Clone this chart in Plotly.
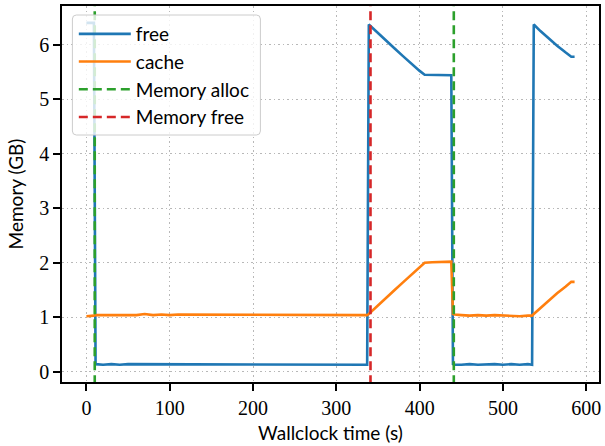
import plotly.graph_objects as go

# Sampled memory usage over the run (seconds, GB)
time_s = [0, 5, 9, 11, 20, 30, 40, 50, 60, 70, 80, 90, 100, 110, 120, 130, 140, 150,
          160, 170, 180, 190, 200, 210, 220, 230, 240, 250, 260, 270, 280, 290, 300,
          310, 320, 330, 337, 339, 350, 360, 370, 380, 390, 400, 406, 415, 425, 438,
          440, 442, 450, 460, 470, 480, 490, 500, 510, 520, 530, 535, 537, 545, 555,
          565, 575, 582, 586]

free_gb = [6.40, 6.40, 6.40, 0.14, 0.13, 0.14, 0.13, 0.14, 0.14, 0.13, 0.14, 0.13,
           0.14, 0.14, 0.13, 0.14, 0.13, 0.14, 0.14, 0.13, 0.14, 0.13, 0.14, 0.14,
           0.13, 0.14, 0.13, 0.14, 0.13, 0.14, 0.14, 0.13, 0.14, 0.13, 0.14, 0.13,
           0.13, 6.37, 6.22, 6.07, 5.93, 5.79, 5.65, 5.52, 5.45, 5.45, 5.44, 5.44,
           0.14, 0.13, 0.13, 0.14, 0.13, 0.14, 0.14, 0.13, 0.14, 0.13, 0.14, 0.13,
           6.37, 6.25, 6.11, 5.98, 5.86, 5.78, 5.78]

cache_gb = [1.02, 1.02, 1.03, 1.04, 1.04, 1.05, 1.04, 1.05, 1.04, 1.06, 1.04, 1.05,
            1.04, 1.05, 1.05, 1.04, 1.05, 1.04, 1.05, 1.04, 1.05, 1.04, 1.05, 1.04,
            1.04, 1.05, 1.04, 1.05, 1.04, 1.05, 1.04, 1.04, 1.05, 1.04, 1.05, 1.04,
            1.04, 1.06, 1.21, 1.36, 1.50, 1.64, 1.78, 1.92, 2.00, 2.01, 2.01, 2.02,
            1.06, 1.05, 1.04, 1.03, 1.04, 1.03, 1.04, 1.03, 1.03, 1.02, 1.03, 1.03,
            1.06, 1.17, 1.31, 1.44, 1.56, 1.65, 1.65]

alloc_times = [10, 441]
free_times = [341]

x_ticks = [0, 100, 200, 300, 400, 500, 600]
y_ticks = [0, 1, 2, 3, 4, 5, 6]


def vlines(ts):
    xs, ys = [], []
    for t in ts:
        xs += [t, t, None]
        ys += [-1, 8, None]
    return xs, ys


BLUE, ORANGE, GREEN, RED = "#1f77b4", "#ff7f0e", "#2ca02c", "#d62728"
SANS = "Lato"
SERIF = "Liberation Serif"
TICK_FONT = dict(family=SERIF, size=20, color="black")
LABEL_FONT = dict(family=SANS, size=19, color="black")

fig = go.Figure()
fig.add_trace(go.Scatter(x=time_s, y=free_gb, mode="lines", name="free",
                         line=dict(color=BLUE, width=2.6), legendgroup="a"))
fig.add_trace(go.Scatter(x=time_s, y=cache_gb, mode="lines", name="cache",
                         line=dict(color=ORANGE, width=2.6), legendgroup="b"))
ax, ay = vlines(alloc_times)
fig.add_trace(go.Scatter(x=ax, y=ay, mode="lines", name="Memory alloc",
                         line=dict(color=GREEN, width=2.6, dash="9px,5px"),
                         legendgroup="c"))
fx, fy = vlines(free_times)
fig.add_trace(go.Scatter(x=fx, y=fy, mode="lines", name="Memory free",
                         line=dict(color=RED, width=2.6, dash="9px,5px"),
                         legendgroup="d"))

# Rounded, semi-transparent legend frame (pixel offsets from the plot's top-left)
box_path = ("M 14.4,-9 L 194.4,-9 Q 198.4,-9 198.4,-13 L 198.4,-125 "
            "Q 198.4,-129 194.4,-129 L 14.4,-129 Q 10.4,-129 10.4,-125 "
            "L 10.4,-13 Q 10.4,-9 14.4,-9 Z")
fig.add_shape(type="path", path=box_path, xref="paper", yref="paper",
              xsizemode="pixel", ysizemode="pixel", xanchor=0, yanchor=1,
              fillcolor="rgba(255,255,255,0.8)", line=dict(color="#cccccc", width=1),
              layer="above")

axis_common = dict(showline=True, linecolor="black", linewidth=1.6, mirror=True,
                   ticks="outside", ticklen=7, tickwidth=1.6, tickcolor="black",
                   showgrid=True, gridcolor="#b8b8b8", griddash="1.5px,3px", gridwidth=1,
                   zeroline=False, tickfont=TICK_FONT, ticklabeloverflow="allow")

fig.update_layout(
    width=605, height=446,
    margin=dict(l=62, r=4, t=6, b=64),
    paper_bgcolor="white", plot_bgcolor="white",
    font=dict(family=SERIF, size=20, color="black"),
    showlegend=True,
    legend=dict(x=0.022, y=0.976, xanchor="left", yanchor="top",
                bgcolor="rgba(0,0,0,0)", borderwidth=0, itemwidth=52,
                traceorder="grouped", tracegroupgap=0,
                font=LABEL_FONT),
    xaxis=dict(range=[-29.3, 615.3], tickvals=x_ticks,
               title=dict(text="Wallclock time (s)", standoff=9, font=LABEL_FONT),
               **axis_common),
    yaxis=dict(range=[-0.187, 6.71], tickvals=y_ticks,
               title=dict(text="Memory (GB)", standoff=11, font=LABEL_FONT),
               **axis_common),
)

fig.write_html("out.html")
